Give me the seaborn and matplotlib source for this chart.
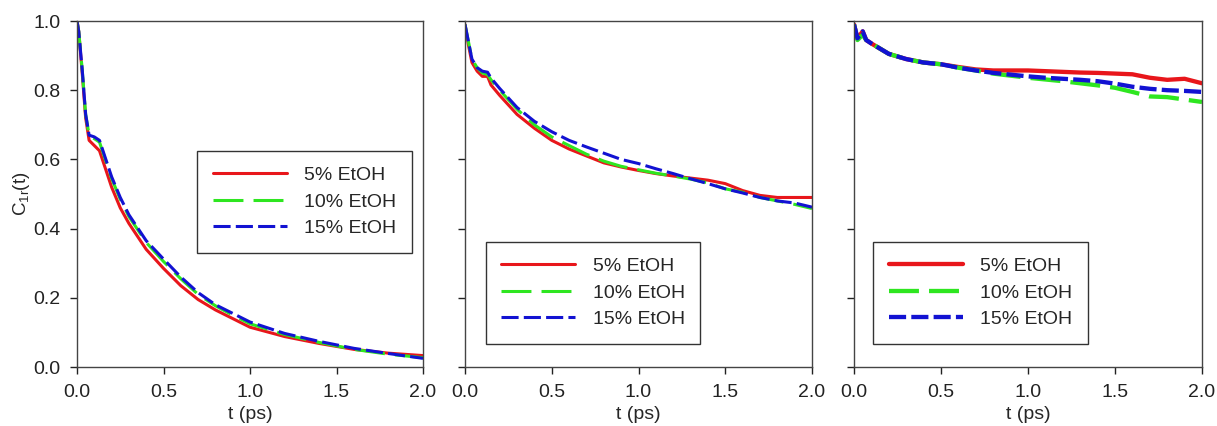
import pandas as pd
import numpy as np
import seaborn as sns
import matplotlib.pyplot as plt

# series labels
labels = ["5% EtOH", "10% EtOH", "15% EtOH"]

# panel 1
t1 = [0, 0.01, 0.03, 0.05, 0.07, 0.1, 0.13, 0.16, 0.2, 0.25, 0.3, 0.4, 0.5,
      0.6, 0.7, 0.8, 0.9, 1.0, 1.2, 1.4, 1.6, 1.8, 2.0]
p1_red = [1.0, 0.97, 0.85, 0.72, 0.655, 0.64, 0.625, 0.58, 0.52, 0.46, 0.415, 0.34, 0.285,
          0.235, 0.195, 0.165, 0.14, 0.115, 0.088, 0.068, 0.051, 0.04, 0.033]
p1_green = [1.0, 0.97, 0.86, 0.73, 0.67, 0.66, 0.65, 0.605, 0.545, 0.485, 0.435, 0.36, 0.305,
            0.255, 0.21, 0.177, 0.15, 0.125, 0.094, 0.071, 0.051, 0.037, 0.027]
p1_blue = [1.0, 0.97, 0.86, 0.73, 0.67, 0.665, 0.655, 0.61, 0.55, 0.49, 0.44, 0.365, 0.312,
           0.26, 0.215, 0.18, 0.155, 0.13, 0.097, 0.074, 0.054, 0.039, 0.025]

# panel 2
t2 = [0, 0.02, 0.04, 0.07, 0.1, 0.13, 0.15, 0.2, 0.3, 0.4, 0.5, 0.6, 0.7, 0.8, 0.9,
      1.0, 1.1, 1.2, 1.3, 1.4, 1.5, 1.6, 1.7, 1.8, 1.9, 2.0]
p2_red = [0.99, 0.93, 0.88, 0.855, 0.84, 0.84, 0.815, 0.785, 0.73, 0.69, 0.655, 0.63, 0.61,
          0.59, 0.578, 0.568, 0.559, 0.552, 0.546, 0.54, 0.53, 0.51, 0.496, 0.49, 0.49, 0.49]
p2_green = [0.99, 0.94, 0.89, 0.865, 0.85, 0.845, 0.83, 0.80, 0.745, 0.70, 0.665, 0.64, 0.615,
            0.595, 0.58, 0.57, 0.56, 0.552, 0.543, 0.532, 0.515, 0.505, 0.49, 0.48, 0.47, 0.458]
p2_blue = [0.99, 0.94, 0.89, 0.865, 0.855, 0.852, 0.835, 0.805, 0.75, 0.71, 0.68, 0.655, 0.636,
           0.618, 0.60, 0.588, 0.573, 0.559, 0.544, 0.53, 0.515, 0.503, 0.49, 0.48, 0.474, 0.462]

# panel 3
t3 = [0, 0.02, 0.05, 0.07, 0.1, 0.2, 0.3, 0.4, 0.5, 0.6, 0.7, 0.8, 0.9, 1.0, 1.1, 1.2,
      1.3, 1.4, 1.5, 1.6, 1.7, 1.8, 1.9, 2.0]
p3_red = [0.99, 0.95, 0.97, 0.945, 0.935, 0.905, 0.89, 0.88, 0.875, 0.867, 0.86, 0.857,
          0.857, 0.857, 0.855, 0.853, 0.851, 0.85, 0.848, 0.846, 0.836, 0.83, 0.833, 0.82]
p3_green = [0.99, 0.945, 0.96, 0.945, 0.935, 0.905, 0.89, 0.88, 0.875, 0.865, 0.857, 0.848,
            0.842, 0.836, 0.831, 0.826, 0.82, 0.814, 0.807, 0.795, 0.782, 0.78, 0.773, 0.766]
p3_blue = [0.99, 0.95, 0.97, 0.945, 0.935, 0.905, 0.89, 0.88, 0.875, 0.865, 0.857, 0.85,
           0.845, 0.84, 0.836, 0.833, 0.83, 0.826, 0.819, 0.81, 0.804, 0.80, 0.798, 0.795]

panels = [(t1, [p1_red, p1_green, p1_blue]),
          (t2, [p2_red, p2_green, p2_blue]),
          (t3, [p3_red, p3_green, p3_blue])]

sns.set_theme(style="ticks")
plt.rcParams['font.family'] = ['Liberation Sans', 'DejaVu Sans']
plt.rcParams['mathtext.fontset'] = 'custom'
plt.rcParams['mathtext.rm'] = 'Liberation Sans'

palette = {labels[0]: "#e8161b", labels[1]: "#2ee620", labels[2]: "#1212d2"}

fig = plt.figure(figsize=(12.17, 4.26), dpi=100)
lefts = [77, 465, 854]
widths = [346, 347, 348]
leg_pos = [(0.347, 0.624), (0.06, 0.361), (0.055, 0.361)]
lws = [2.2, 2.2, 3.1]
FS = 14

for i, (t, series) in enumerate(panels):
    ax = fig.add_axes([lefts[i] / 1217, 59 / 426, widths[i] / 1217, 346 / 426])
    df = pd.DataFrame({"t": t * 3,
                       "C": np.concatenate(series),
                       "conc": np.repeat(labels, len(t))})
    # dash lengths are scaled by line width, so keep them constant in pixels
    k = 2.2 / lws[i]
    dashes = {labels[0]: "", labels[1]: (9.8 * k, 3.3 * k), labels[2]: (5.6 * k, 1.7 * k)}
    sns.lineplot(data=df, x="t", y="C", hue="conc", style="conc",
                 palette=palette, dashes=dashes, linewidth=lws[i], ax=ax)
    ax.set_xlim(0, 2.0)
    ax.set_ylim(0, 1.0)
    ax.set_xticks([0, 0.5, 1.0, 1.5, 2.0])
    ax.set_yticks([0, 0.2, 0.4, 0.6, 0.8, 1.0])
    ax.tick_params(direction="out", length=5, width=1, pad=7, labelsize=FS, colors="#222222")
    for s in ax.spines.values():
        s.set_visible(True)
        s.set_color("#444444")
        s.set_linewidth(1)
    ax.set_xlabel("t (ps)", fontsize=FS, labelpad=4)
    if i == 0:
        ax.set_yticklabels(["0.0", "0.2", "0.4", "0.6", "0.8", "1.0"])
        ax.set_ylabel(r"C$_\mathregular{1r}$(t)", fontsize=FS - 0.5, labelpad=1)
    else:
        ax.set_yticklabels([])
        ax.set_ylabel("")
    leg = ax.legend(title=None, loc="upper left", bbox_to_anchor=leg_pos[i],
                    borderaxespad=0, fontsize=FS, handlelength=3.8,
                    handletextpad=0.9, labelspacing=0.45, borderpad=0.8,
                    fancybox=False, framealpha=1, edgecolor="#333333")
    leg.get_frame().set_linewidth(1)
    for h in leg.get_lines():
        h.set_linewidth(lws[i])

fig.savefig("out.png", dpi=100)
